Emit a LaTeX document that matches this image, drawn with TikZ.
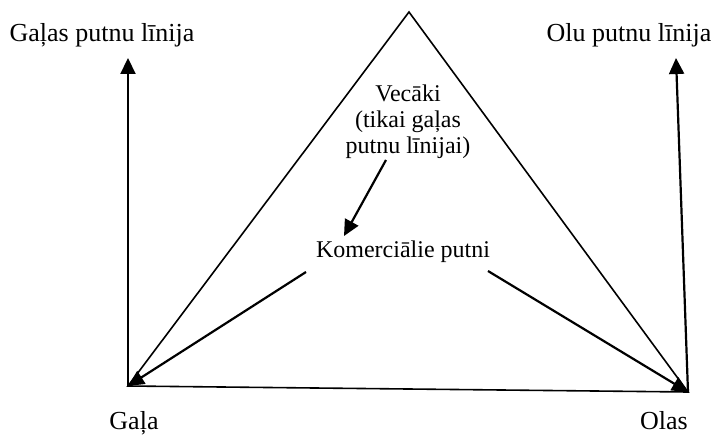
\documentclass[tikz,border=0pt]{standalone}
\usepackage{fontspec}
\setmainfont{Liberation Serif}
\usetikzlibrary{arrows.meta}
\begin{document}
\begin{tikzpicture}[x=1pt,y=-1pt,
  lbl/.style={font=\fontsize{26}{26}\selectfont,inner sep=0pt,anchor=base},
  mid/.style={font=\fontsize{24}{26}\selectfont,inner sep=1pt,align=center},
  ar/.style={-{Triangle[length=16pt,width=15pt]},line width=2.2pt},
  side/.style={line width=1.6pt,line join=miter}]
\useasboundingbox (0,0) rectangle (716,436);
% ---- corners of the triangle ----
\coordinate (apex) at (409,12);
\coordinate (gl) at (128,386);
\coordinate (ol) at (688,392);
\draw[side] (gl) -- (apex) -- (ol) -- cycle;
% ---- line tops ----
\coordinate (gtop) at (128,58);
\coordinate (otop) at (676,58);
\node[lbl] (gline) at (102,42) {Gaļas putnu līnija};
\node[lbl] (oline) at (629,42) {Olu putnu līnija};
\draw[ar] (gl) -- (gtop);
\draw[ar] (ol) -- (otop);
% ---- middle ----
\node[mid] (vec) at (408,122) {Vecāki\\(tikai gaļas\\putnu līnijai)};
\node[mid,anchor=base] (kom) at (403,257) {Komerciālie putni};
\coordinate (va) at (386,160);
\coordinate (vb) at (344,236);
\draw[ar] (va) -- (vb);
\coordinate (kl) at (306,272);
\coordinate (kr) at (488,271);
\draw[ar] (kl) -- (gl);
\draw[ar] (kr) -- (ol);
% ---- bottom labels ----
\node[lbl] (gala) at (134,429) {Gaļa};
\node[lbl] (olas) at (664,429) {Olas};
\end{tikzpicture}
\end{document}
